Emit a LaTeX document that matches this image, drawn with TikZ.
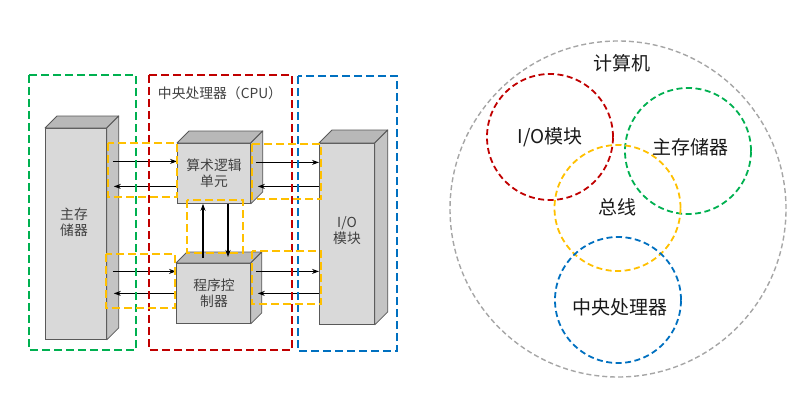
\documentclass[tikz,border=0pt]{standalone}
\usepackage{fontspec}
\setmainfont{Noto Sans CJK SC}
\usetikzlibrary{arrows.meta,calc}
\definecolor{cgreen}{HTML}{00B050}
\definecolor{cred}{HTML}{C00000}
\definecolor{cblue}{HTML}{0070C0}
\definecolor{cyellow}{HTML}{FFC000}
\definecolor{cgray}{HTML}{A6A6A6}
\definecolor{frontc}{HTML}{D9D9D9}
\definecolor{topc}{HTML}{B8B8B8}
\definecolor{sidec}{HTML}{C4C4C4}
\definecolor{edgec}{HTML}{595959}
\definecolor{ltext}{HTML}{404040}
\definecolor{rtext}{HTML}{1A1A1A}
\tikzset{
  front/.style={rectangle, draw=edgec, fill=frontc, line width=0.8pt, inner sep=0pt, anchor=north west},
  topface/.style={draw=edgec, fill=topc, line width=0.8pt, line join=round},
  sideface/.style={draw=edgec, fill=sidec, line width=0.8pt, line join=round},
  ltxt/.style={text=ltext, font=\fontsize{13.8}{16}\selectfont, align=center, inner sep=0pt},
  rtxt/.style={text=rtext, font=\fontsize{19}{22}\selectfont, inner sep=0pt},
  arr/.style={-{Stealth[length=7pt,width=5pt]}, line width=1.1pt, black},
  bigbox/.style={line width=2.8pt, dash pattern=on 8pt off 4pt},
  ybox/.style={draw=cyellow, line width=2.8pt, dash pattern=on 8pt off 4pt},
  ring/.style={circle, draw, line width=1.8pt, dash pattern=on 6pt off 3.5pt, minimum size=126pt, inner sep=0pt},
}
\newcommand{\blockfaces}[2]{%
  \draw[topface] (#1.north west) -- (#1.north east) -- ++(#2,-#2) -- ([shift={(#2,-#2)}]#1.north west) -- cycle;
  \draw[sideface] (#1.north east) -- ++(#2,-#2) -- ([shift={(#2,-#2)}]#1.south east) -- (#1.south east) -- cycle;}
\begin{document}
\begin{tikzpicture}[x=1pt,y=-1pt]
\useasboundingbox (0,0) rectangle (802,401);
% ---------- left diagram: blocks ----------
\node[front, minimum width=61pt, minimum height=211pt] (mem) at (45,128) {};
\blockfaces{mem}{12}
\node[ltxt] (memlbl) at (74,222) {主存\\储器};
\node[front, minimum width=73pt, minimum height=60pt] (alu) at (177,143) {};
\blockfaces{alu}{12}
\node[ltxt] (alulbl) at (214,173) {算术逻辑\\单元};
\node[front, minimum width=74pt, minimum height=60pt] (ctrl) at (176,263) {};
\blockfaces{ctrl}{11}
\node[ltxt] (ctrllbl) at (214,293) {程序控\\制器};
\node[front, minimum width=55pt, minimum height=181pt] (io) at (319,143) {};
\blockfaces{io}{13}
\node[ltxt] (iolbl) at (347,231) {I/O\\模块};
% ---------- arrows ----------
\draw[arr] ($(mem.east |- alu.west)+(6,-12)$) -- ($(alu.west)+(0,-12)$);
\draw[arr] ($(alu.west)+(0,13)$) -- ($(mem.east |- alu.west)+(7,13)$);
\draw[arr] ($(mem.east |- ctrl.west)+(6,-22)$) -- ($(ctrl.west)+(0,-22)$);
\draw[arr] ($(ctrl.west)+(0,0)$) -- ($(mem.east |- ctrl.west)+(7,0)$);
\draw[arr] ($(alu.east)+(5,-11)$) -- ($(io.west |- alu.east)+(0,-11)$);
\draw[arr] ($(io.west |- alu.east)+(0,13)$) -- ($(alu.east)+(7,13)$);
\draw[arr] ($(ctrl.east)+(5,-22)$) -- ($(io.west |- ctrl.east)+(0,-22)$);
\draw[arr] ($(io.west |- ctrl.east)+(0,0)$) -- ($(ctrl.east)+(7,0)$);
\draw[arr] ($(ctrl.north west)+(27,-5)$) -- ($(alu.south west)+(26,0)$);
\draw[arr] ($(alu.south west)+(51,0)$) -- ($(ctrl.north west)+(52,-6)$);
% ---------- dashed groups ----------
\draw[bigbox, cgreen] (29,75) rectangle (136,350);
\draw[bigbox, cred] (149,75) rectangle (292,350);
\draw[bigbox, cblue] (298,76) rectangle (397,351);
\node[ltxt] (cpulbl) at (220,93) {中央处理器（CPU）};
\draw[ybox] (108,143) rectangle (177,197);
\draw[ybox] (106,254) rectangle (175,308);
\draw[ybox] (187,200) rectangle (243,253);
\draw[ybox] (252,144) rectangle (321,199);
\draw[ybox] (252,251) rectangle (321,304);
% ---------- right diagram ----------
\node[circle, draw=cgray, line width=1.4pt, dash pattern=on 5pt off 3pt, minimum size=336pt, inner sep=0pt] (comp) at (618,209) {};
\node[rtxt] (complbl) at (622,63) {计算机};
\node[ring, draw=cred] (rio) at (550,137) {};
\node[ring, draw=cgreen] (rmem) at (688,151) {};
\node[ring, draw=cyellow] (rbus) at (617.5,208) {};
\node[ring, draw=cblue] (rcpu) at (618,300) {};
\node[rtxt] (riolbl) at (550,137) {I/O模块};
\node[rtxt] (rmemlbl) at (690,147) {主存储器};
\node[rtxt] (rbuslbl) at (617,207) {总线};
\node[rtxt] (rcpulbl) at (620,307) {中央处理器};
\end{tikzpicture}
\end{document}
